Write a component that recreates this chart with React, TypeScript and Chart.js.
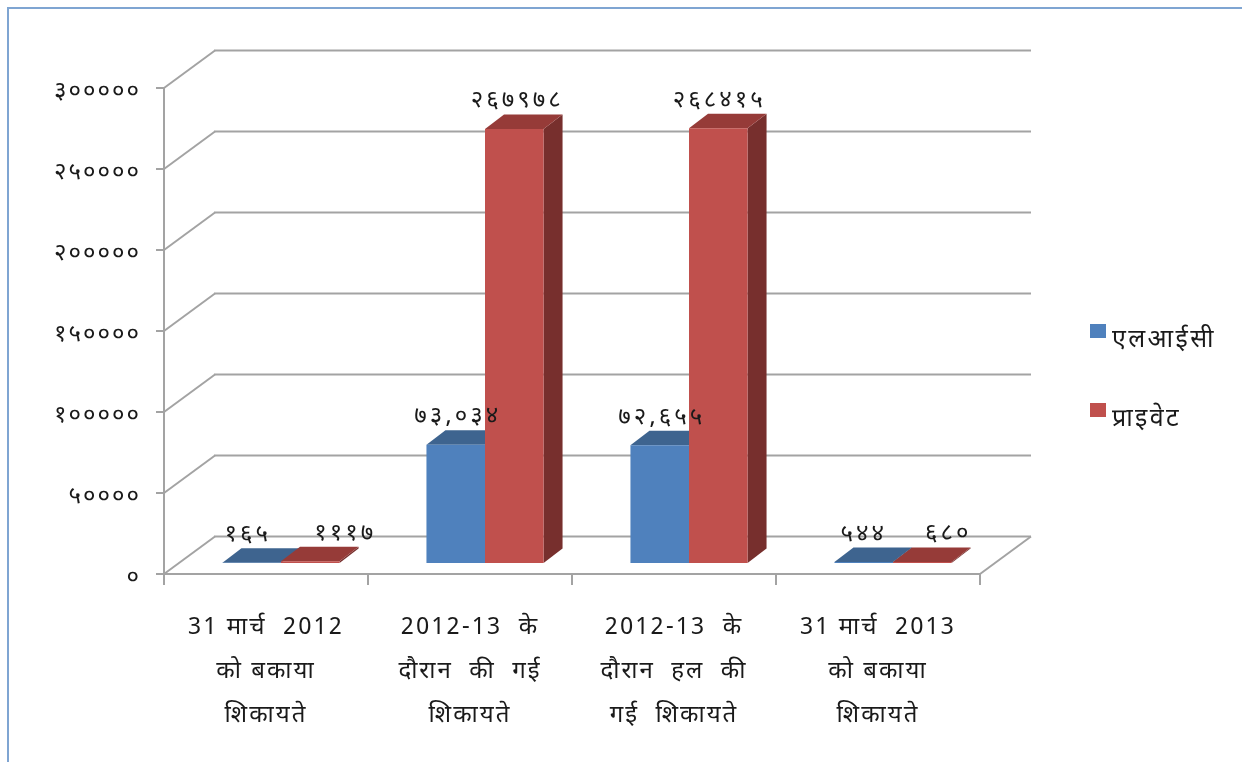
import React, { useEffect, useRef } from "react";
import { Chart, registerables } from "chart.js";

Chart.register(...registerables);

const categories = [
  ["31 मार्च  2012", "को बकाया", "शिकायते"],
  ["2012-13  के", "दौरान  की  गई", "शिकायते"],
  ["2012-13  के", "दौरान  हल  की", "गई  शिकायते"],
  ["31 मार्च  2013", "को बकाया", "शिकायते"],
];
const licValues = [165, 73034, 72655, 544];
const privateValues = [1117, 267978, 268415, 680];
const licLabels = ["१६५", "७३,०३४", "७२,६५५", "५४४"];
const privateLabels = ["१११७", "२६७९७८", "२६८४१५", "६८०"];
const yTickLabels = ["०", "५००००", "१०००००", "१५००००", "२०००००", "२५००००", "३०००००"];
const seriesNames = ["एलआईसी", "प्राइवेट"];

const FONT = '"Noto Sans Devanagari", Mangal, "Lohit Devanagari", "Noto Sans", "DejaVu Sans", sans-serif';
const GRID = "#a3a3a3";
const WALL_DX = 51;
const WALL_DY = -37.5;
const BAR_DX = 15;
const BAR_DY = -11;
const DEPTH_DX = 19;
const DEPTH_DY = -14.5;
const FRONT = ["#4f81bd", "#c0504d"];
const TOP = ["#3e648f", "#963b38"];
const SIDE = ["#2f4b6e", "#772f2d"];
// label anchor offsets from the centre of each bar front: [dataset][category]
const LABEL_SHIFT = [
  [-4, 2, 2, 0],
  [35, 3, 1, 26],
];
const LABEL_RISE = 26;

const poly = (ctx: CanvasRenderingContext2D, pts: number[][], fill: string) => {
  ctx.fillStyle = fill;
  ctx.beginPath();
  pts.forEach(([x, y], i) => (i ? ctx.lineTo(x, y) : ctx.moveTo(x, y)));
  ctx.closePath();
  ctx.fill();
};

const line = (ctx: CanvasRenderingContext2D, x1: number, y1: number, x2: number, y2: number) => {
  ctx.beginPath();
  ctx.moveTo(x1, y1);
  ctx.lineTo(x2, y2);
  ctx.stroke();
};

const scene3d = {
  id: "scene3d",
  beforeDraw(chart: any) {
    chart.ctx.letterSpacing = "2px";
  },
  beforeDatasetsDraw(chart: any) {
    const { ctx, chartArea: a, scales } = chart;
    ctx.save();
    // page frame
    ctx.strokeStyle = "#7fa5d2";
    ctx.lineWidth = 2;
    ctx.beginPath();
    ctx.moveTo(8, 762);
    ctx.lineTo(8, 8);
    ctx.lineTo(1242, 8);
    ctx.stroke();

    ctx.strokeStyle = GRID;
    ctx.lineWidth = 2;
    scales.y.ticks.forEach((_: any, i: number) => {
      const y = scales.y.getPixelForTick(i);
      line(ctx, a.left, y, a.left + WALL_DX, y + WALL_DY);
      line(ctx, a.left + WALL_DX - 1, y + WALL_DY, a.right + WALL_DX, y + WALL_DY);
      line(ctx, a.left - 8, y, a.left, y);
    });
    line(ctx, a.left, a.top, a.left, a.bottom + 11);
    line(ctx, a.left, a.bottom, a.right, a.bottom);
    line(ctx, a.right, a.bottom, a.right + WALL_DX, a.bottom + WALL_DY);
    for (let i = 0; i <= categories.length; i++) {
      const x = a.left + ((a.right - a.left) * i) / categories.length;
      line(ctx, x, a.bottom, x, a.bottom + 11);
    }

    ctx.translate(BAR_DX, BAR_DY);
    [0, 1].forEach((d) => {
      chart.getDatasetMeta(d).data.forEach((bar: any) => {
        const { x, y, base, width } = bar.getProps(["x", "y", "base", "width"], true);
        const l = x - width / 2;
        const r = x + width / 2;
        poly(ctx, [[r, y], [r + DEPTH_DX, y + DEPTH_DY], [r + DEPTH_DX, base + DEPTH_DY], [r, base]], SIDE[d]);
        poly(ctx, [[l, y], [l + DEPTH_DX, y + DEPTH_DY], [r + DEPTH_DX, y + DEPTH_DY], [r, y]], TOP[d]);
      });
    });
    ctx.restore();
    ctx.save();
    ctx.translate(BAR_DX, BAR_DY);
  },
  afterDatasetsDraw(chart: any) {
    const { ctx } = chart;
    ctx.restore();
    ctx.save();
    ctx.fillStyle = "#1a1a1a";
    ctx.textAlign = "center";
    ctx.textBaseline = "middle";
    ctx.letterSpacing = "3px";
    ctx.font = `24px ${FONT}`;
    [licLabels, privateLabels].forEach((labels, d) => {
      chart.getDatasetMeta(d).data.forEach((bar: any, i: number) => {
        const { x, y } = bar.getProps(["x", "y"], true);
        ctx.fillText(labels[i], x + BAR_DX + LABEL_SHIFT[d][i], y + BAR_DY - LABEL_RISE);
      });
    });
    // legend
    ctx.textAlign = "left";
    ctx.letterSpacing = "2.4px";
    ctx.font = `25px ${FONT}`;
    chart.data.datasets.forEach((ds: any, d: number) => {
      const top = 324 + d * 79;
      ctx.fillStyle = ds.backgroundColor;
      ctx.fillRect(1090, top, 16, 14);
      ctx.fillStyle = "#1a1a1a";
      ctx.fillText(ds.label, 1112, top + 18);
    });
    ctx.restore();
  },
};

export default function App() {
  const ref = useRef<HTMLCanvasElement>(null);
  useEffect(() => {
    const chart = new Chart(ref.current!, {
      type: "bar",
      data: {
        labels: categories,
        datasets: [
          { label: seriesNames[0], data: licValues, backgroundColor: FRONT[0], clip: false },
          { label: seriesNames[1], data: privateValues, backgroundColor: FRONT[1], clip: false },
        ],
      } as any,
      options: {
        responsive: false,
        animation: false,
        events: [],
        layout: { padding: { top: 88, right: 262, left: 0, bottom: 0 } },
        plugins: { legend: { display: false }, tooltip: { enabled: false }, title: { display: false } },
        datasets: { bar: { barPercentage: 1, categoryPercentage: 0.574 } },
        scales: {
          x: {
            grid: { display: false },
            border: { display: false },
            afterFit: (s: any) => { s.height = 188; },
            ticks: {
              color: "#1a1a1a",
              autoSkip: false,
              maxRotation: 0,
              minRotation: 0,
              padding: 26,
              font: { family: FONT, size: 24, lineHeight: 44 / 24 },
            },
          },
          y: {
            min: 0,
            max: 300000,
            grid: { display: false },
            border: { display: false },
            afterFit: (s: any) => { s.width = 164; },
            ticks: {
              stepSize: 50000,
              color: "#1a1a1a",
              padding: 15,
              labelOffset: 6,
              font: { family: FONT, size: 24 },
              callback: (_v: any, i: number) => yTickLabels[i],
            },
          },
        },
      } as any,
      plugins: [scene3d],
    });
    return () => chart.destroy();
  }, []);
  return (
    <div style={{ position: "absolute", left: 0, top: 0, width: 1242, height: 762, background: "#fff", overflow: "hidden" }}>
      <canvas ref={ref} width={1242} height={762} style={{ display: "block" }} />
    </div>
  );
}
